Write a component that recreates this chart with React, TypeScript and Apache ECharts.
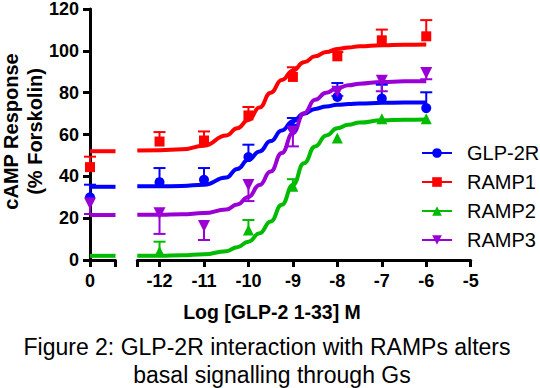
import React, { useEffect, useRef } from "react";
import * as echarts from "echarts";

const FONT = '"Liberation Sans", Arial, Helvetica, sans-serif';

// ---- data ----
const seriesNames = ["GLP-2R", "RAMP1", "RAMP2", "RAMP3"];
const seriesColors = ["#0000FF", "#FF0000", "#00BB00", "#9A00D6"];
const seriesSymbols = ["circle", "rect", "triangle", "triangle"];
const seriesSymbolRotate = [0, 0, 0, 180];
const seriesSymbolSize = [10, 10, 11, 12];

// fitted curve (log M)
const curveX = [-12.5, -12, -11.5, -11, -10.5, -10.25, -10, -9.75, -9.5, -9.25, -9, -8.75, -8.5, -8.25, -8, -7.75, -7.5, -7, -6.5, -6];
const curveGLP2R = [35, 35, 35.2, 35.8, 39.2, 43.3, 47.6, 51.6, 56.5, 61.5, 66, 69.5, 71.8, 73, 73.8, 74.1, 74.4, 74.7, 74.8, 74.8];
const curveRAMP1 = [52, 52.2, 52.6, 54.3, 59.2, 62.6, 66.5, 72.5, 79.5, 85.5, 90, 94, 96.8, 98.8, 100.3, 101, 101.6, 102.1, 102.3, 102.4];
const curveRAMP2 = [2, 2, 2.2, 2.7, 4.2, 6.1, 8.7, 12.7, 18.3, 26.2, 35.7, 46, 54, 59.2, 62.6, 64.3, 65.3, 66.4, 66.7, 66.8];
const curveRAMP3 = [21.5, 21.5, 21.7, 22.3, 24, 26.4, 30, 35.7, 42.1, 50.8, 60.3, 69.8, 76.2, 79.5, 81.7, 83, 83.8, 84.6, 84.9, 85];

// measured points (log M) and signed error bars (+ above, - below)
const pointX = [-12, -11, -10, -9, -8, -7, -6];
const pointsGLP2R = [37, 38.1, 48.9, 62.7, 77.5, 76.7, 72.2];
const errGLP2R = [6.7, 5.6, 5.9, 4.8, 6.6, 6.6, 7.5];
const pointsRAMP1 = [56.3, 56.8, 68.7, 87, 96.8, 104.4, 106.3];
const errRAMP1 = [4.5, 4.3, 4, 4.6, 2, 5.1, 7.7];
const pointsRAMP2 = [4, null, 14.3, 35, 58, 67.1, 67.1];
const errRAMP2 = [4.7, 0, 4.7, 3.4, 0, 0, 0];
const pointsRAMP3 = [22.2, 16.2, 35.7, 61, 80, 85.2, 88.9];
const errRAMP3 = [-9.8, -6.7, -7.7, -7, -2, -5, -3];

// basal (no agonist, plotted at 0)
const basalPoints = [30, 44.4, null, 27];
const basalErr = [6, 5, 0, -5];

const xTicksLeft = [0, 1];
const xLabelsLeft = [0];
const xTicksRight = [-12.5, -12, -11, -10, -9, -8, -7, -6, -5];
const xLabelsRight = [-12, -11, -10, -9, -8, -7, -6, -5];

const xTitle = "Log [GLP-2 1-33] M";
const yTitle1 = "cAMP Response";
const yTitle2 = "(% Forskolin)";
const caption1 = "Figure 2: GLP-2R interaction with RAMPs alters";
const caption2 = "basal signalling through Gs";

const curves = [curveGLP2R, curveRAMP1, curveRAMP2, curveRAMP3];
const points = [pointsGLP2R, pointsRAMP1, pointsRAMP2, pointsRAMP3];
const errs = [errGLP2R, errRAMP1, errRAMP2, errRAMP3];

function errorSeries(name: string, color: string, data: number[][], axis: number) {
  return {
    type: "custom",
    name,
    xAxisIndex: axis,
    yAxisIndex: axis,
    z: 3,
    silent: true,
    encode: { x: 0, y: 1 },
    data,
    renderItem: (params: any, api: any) => {
      const x = api.value(0);
      const y = api.value(1);
      const e = api.value(2);
      const a = api.coord([x, y]);
      const b = api.coord([x, y + e]);
      return {
        type: "group",
        children: [
          { type: "line", shape: { x1: a[0], y1: a[1], x2: b[0], y2: b[1] }, style: { stroke: color, lineWidth: 2 } },
          { type: "line", shape: { x1: b[0] - 6, y1: b[1], x2: b[0] + 6, y2: b[1] }, style: { stroke: color, lineWidth: 2 } },
        ],
      };
    },
  };
}

export default function App() {
  const ref = useRef<HTMLDivElement>(null);
  useEffect(() => {
    document.body.style.margin = "0";
    document.body.style.background = "#fff";
    const chart = echarts.init(ref.current!, null, { renderer: "svg" });

    const series: any[] = [];
    seriesNames.forEach((name, i) => {
      const color = seriesColors[i];
      series.push({
        type: "line",
        name,
        xAxisIndex: 1,
        yAxisIndex: 1,
        data: curveX.map((x, k) => [x, curves[i][k]]),
        smooth: 0.5,
        smoothMonotone: "x",
        showSymbol: false,
        symbol: seriesSymbols[i],
        symbolRotate: seriesSymbolRotate[i],
        symbolSize: seriesSymbolSize[i],
        lineStyle: { width: 4, color },
        itemStyle: { color },
        z: 2,
        silent: true,
      });
    });
    seriesNames.forEach((name, i) => {
      const color = seriesColors[i];
      series.push({
        type: "line",
        name,
        xAxisIndex: 0,
        yAxisIndex: 0,
        data: xTicksLeft.map((x) => [x, curves[i][0]]),
        showSymbol: false,
        symbol: seriesSymbols[i],
        lineStyle: { width: 4, color },
        itemStyle: { color },
        z: 2,
        silent: true,
      });
      const ebR: number[][] = [];
      pointX.forEach((x, k) => {
        const v = points[i][k];
        if (v != null && errs[i][k] !== 0) ebR.push([x, v, errs[i][k]]);
      });
      series.push(errorSeries(name, color, ebR, 1));
      const ebL: number[][] = [];
      if (basalPoints[i] != null && basalErr[i] !== 0) ebL.push([0, basalPoints[i] as number, basalErr[i]]);
      series.push(errorSeries(name, color, ebL, 0));
      const pR: number[][] = [];
      pointX.forEach((x, k) => {
        const v = points[i][k];
        if (v != null) pR.push([x, v]);
      });
      const common = {
        type: "scatter",
        name,
        symbol: seriesSymbols[i],
        symbolRotate: seriesSymbolRotate[i],
        symbolSize: seriesSymbolSize[i],
        itemStyle: { color, opacity: 1 },
        z: 4,
        silent: true,
      };
      series.push({ ...common, xAxisIndex: 1, yAxisIndex: 1, data: pR });
      const pL: number[][] = basalPoints[i] != null ? [[0, basalPoints[i] as number]] : [];
      series.push({ ...common, xAxisIndex: 0, yAxisIndex: 0, data: pL });
    });

    const axisLineStyle = { color: "#000", width: 3 };
    const labelStyle = { color: "#000", fontSize: 18, fontWeight: "bold", fontFamily: FONT };

    chart.setOption({
      animation: false,
      backgroundColor: "#fff",
      grid: [
        { left: 90, right: 424.5, top: 7.5, bottom: 128 },
        { left: 137.3, right: 69.3, top: 7.5, bottom: 128 },
      ],
      xAxis: [
        {
          type: "value",
          gridIndex: 0,
          min: 0,
          max: 1,
          axisLine: { show: true, onZero: false, lineStyle: axisLineStyle },
          axisTick: { show: true, length: 7, lineStyle: axisLineStyle, customValues: xTicksLeft },
          axisLabel: { ...labelStyle, margin: 12, customValues: xLabelsLeft, formatter: (v: number) => String(v) },
          splitLine: { show: false },
        },
        {
          type: "value",
          gridIndex: 1,
          min: -12.5,
          max: -5,
          axisLine: { show: true, onZero: false, lineStyle: axisLineStyle },
          axisTick: { show: true, length: 7, lineStyle: axisLineStyle, customValues: xTicksRight },
          axisLabel: { ...labelStyle, margin: 12, customValues: xLabelsRight, formatter: (v: number) => String(v) },
          splitLine: { show: false },
        },
      ],
      yAxis: [
        {
          type: "value",
          gridIndex: 0,
          min: 0,
          max: 120,
          interval: 20,
          axisLine: { show: true, onZero: false, lineStyle: axisLineStyle },
          axisTick: { show: true, length: 7, lineStyle: axisLineStyle },
          axisLabel: { ...labelStyle, margin: 11 },
          splitLine: { show: false },
        },
        {
          type: "value",
          gridIndex: 1,
          min: 0,
          max: 120,
          interval: 20,
          show: false,
          splitLine: { show: false },
        },
      ],
      legend: {
        orient: "vertical",
        left: 421,
        top: 143,
        padding: 0,
        itemWidth: 30,
        itemHeight: 12,
        itemGap: 9,
        data: seriesNames,
        selectedMode: false,
        textStyle: { fontSize: 20, fontFamily: FONT, color: "#000", lineHeight: 20, padding: [0, 0, 0, 10] },
      },
      graphic: [
        {
          type: "text",
          x: 11,
          y: 131.5,
          rotation: Math.PI / 2,
          style: { text: yTitle1, fontSize: 20, fontWeight: "bold", fontFamily: FONT, fill: "#000", textAlign: "center", textVerticalAlign: "middle" },
        },
        {
          type: "text",
          x: 35,
          y: 131.5,
          rotation: Math.PI / 2,
          style: { text: yTitle2, fontSize: 20, fontWeight: "bold", fontFamily: FONT, fill: "#000", textAlign: "center", textVerticalAlign: "middle" },
        },
        {
          type: "text",
          x: 272,
          y: 312,
          style: { text: xTitle, fontSize: 19.5, fontWeight: "bold", fontFamily: FONT, fill: "#000", textAlign: "center", textVerticalAlign: "middle" },
        },
        {
          type: "text",
          x: 267,
          y: 347,
          style: { text: caption1, fontSize: 23, fontFamily: FONT, fill: "#000", textAlign: "center", textVerticalAlign: "middle" },
        },
        {
          type: "text",
          x: 272,
          y: 375,
          style: { text: caption2, fontSize: 23, fontFamily: FONT, fill: "#000", textAlign: "center", textVerticalAlign: "middle" },
        },
      ],
      series,
    });
    return () => chart.dispose();
  }, []);
  return <div ref={ref} style={{ width: 540, height: 388 }} />;
}
